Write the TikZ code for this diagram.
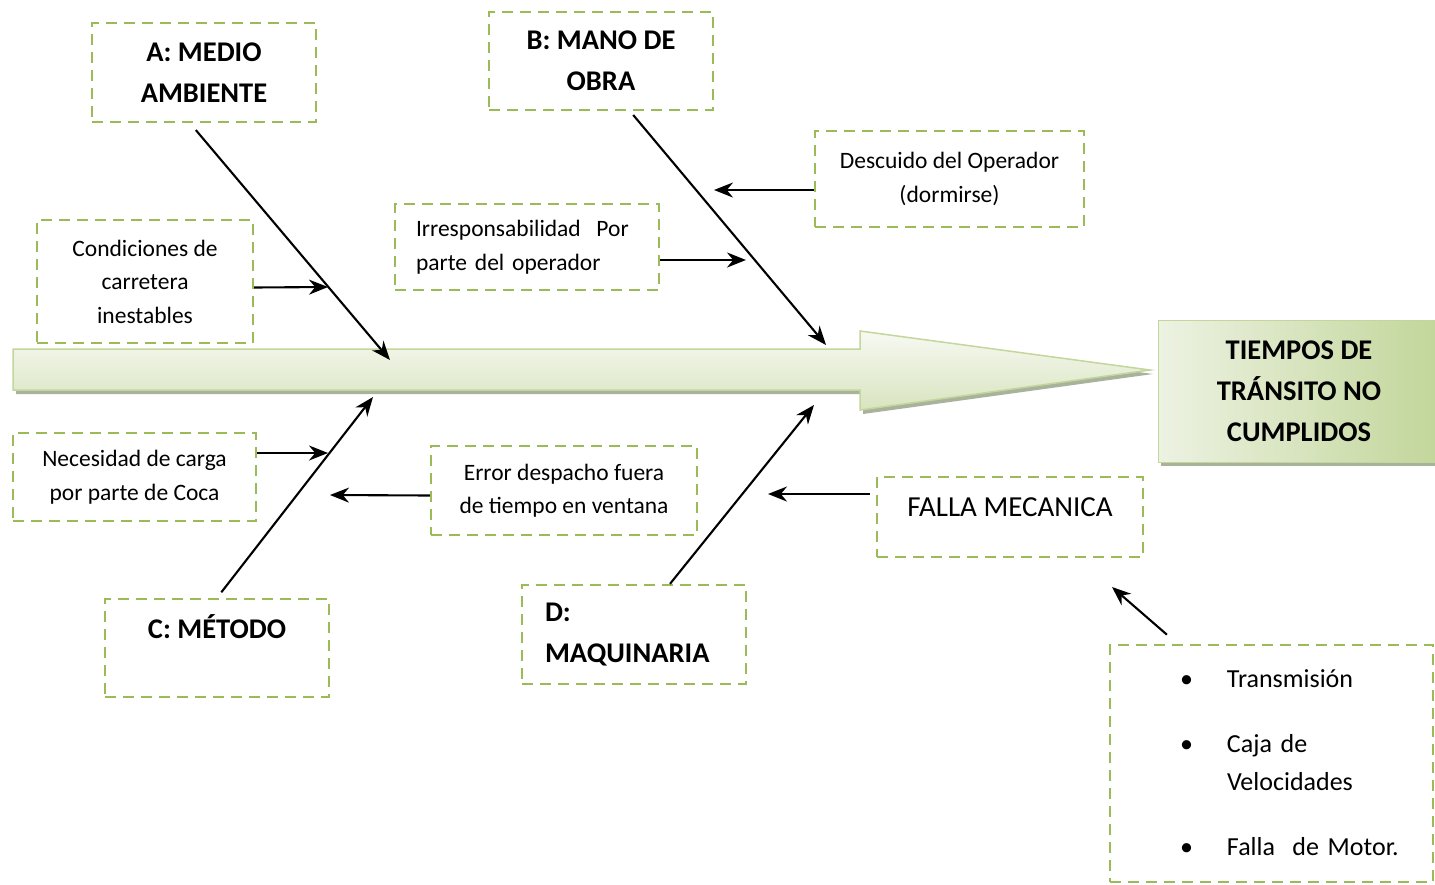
\documentclass[tikz,border=0pt]{standalone}
\usepackage{fontspec}
\setmainfont{Carlito}
\usetikzlibrary{arrows.meta,positioning}
\definecolor{olivedash}{HTML}{9BBB59}
\definecolor{spineline}{HTML}{C3D69B}
\definecolor{spinetop}{HTML}{F7F9F2}
\definecolor{spinebottom}{HTML}{D8E4BF}
\definecolor{shadowgray}{HTML}{A9B29C}
\definecolor{effpale}{HTML}{EDF2E2}
\definecolor{effgreen}{HTML}{C2D69A}

\begin{document}
\begin{tikzpicture}[x=1pt,y=-1pt,
  causebox/.style={draw=olivedash, line width=2.3pt, dash pattern=on 11pt off 7pt,
    fill=white, inner sep=0pt, align=center},
  headtext/.style={font=\fontsize{28.5}{41}\selectfont\bfseries},
  smalltext/.style={font=\fontsize{23.5}{33.5}\selectfont},
  bone/.style={draw=black, line width=2.1pt, -{Stealth[length=19pt,width=15pt]}}]
  \useasboundingbox (0,0) rectangle (1435,884);

  % spine arrow with its shadow
  \fill[shadowgray] (16,353) -- (863,353) -- (863,335) -- (1153,374) -- (863,414)
    -- (863,394) -- (16,394) -- cycle;
  \path[draw=spineline, line width=1.5pt, top color=spinetop, bottom color=spinebottom]
    (13,349) -- (860,349) -- (860,331) -- (1150,370) -- (860,410) -- (860,390)
    -- (13,390) -- cycle;

  % effect
  \fill[shadowgray] (1161,324) rectangle (1440,466);
  \node[draw=spineline, line width=1pt, left color=effpale, right color=effgreen,
    headtext, align=center, inner sep=0pt, minimum width=282pt, minimum height=142pt]
    (tiempos) at (1299,391) {TIEMPOS DE\\TRÁNSITO NO\\CUMPLIDOS};

  % main causes
  \node[causebox, headtext, minimum width=224pt, minimum height=99pt]
    (medio) at (204,72.5) {A: MEDIO\\AMBIENTE};
  \node[causebox, headtext, minimum width=224pt, minimum height=98pt]
    (mano) at (601,61) {B: MANO DE\\OBRA};
  \node[causebox, headtext, minimum width=224pt, minimum height=98pt,
    text height=24pt, text depth=44pt] (metodo) at (217,648) {C: MÉTODO};
  \node[causebox, headtext, align=left, text width=178pt, inner xsep=23pt,
    minimum height=99pt] (maquina) at (634,634.5) {D:\\MAQUINARIA};

  % sub causes
  \node[causebox, smalltext, minimum width=216pt, minimum height=123pt]
    (condic) at (145,281.5) {Condiciones de\\carretera\\inestables};
  \node[causebox, smalltext, align=left, text width=222pt, inner xsep=21pt,
    minimum height=86pt] (irresp) at (527,247) {Irresponsabilidad\ \ Por\\parte del operador};
  \node[causebox, smalltext, minimum width=269pt, minimum height=96pt]
    (descuido) at (949.5,179) {Descuido del Operador\\(dormirse)};
  \node[causebox, smalltext, minimum width=243pt, minimum height=88pt]
    (necesidad) at (134.5,477) {Necesidad de carga\\por parte de Coca};
  \node[causebox, smalltext, minimum width=266pt, minimum height=89pt]
    (despacho) at (564,490.5) {Error despacho fuera\\de tiempo en ventana};
  \node[causebox, font=\fontsize{29}{36}\selectfont, minimum width=266pt,
    minimum height=80pt, text depth=20pt] (falla) at (1010,517) {FALLA MECANICA};
  \node[causebox, align=left, text width=323pt, minimum height=237pt,
    font=\fontsize{26}{38}\selectfont] (partes) at (1271.5,763.5)
    {\begin{tabular}{@{\hspace{70pt}}p{47pt}@{}l@{}}
      \textbullet & Transmisión\\[27pt]
      \textbullet & Caja de\\
                  & Velocidades\\[27pt]
      \textbullet & Falla\ \ de Motor.
    \end{tabular}};

  % points on the spine and on the bones
  \coordinate (spineA) at (390,360);
  \coordinate (spineB) at (826,345);
  \coordinate (spineC) at (373,397);
  \coordinate (spineD) at (814,405);
  \coordinate (hitCond) at (328,287);
  \coordinate (hitIrr) at (746,260);
  \coordinate (hitDesc) at (714,190);
  \coordinate (hitNec) at (328,453);
  \coordinate (hitErr) at (330,495);
  \coordinate (hitFalla) at (768,494);
  \coordinate (hitPartes) at (1112,587);

  % bones
  \draw[bone, shorten <=9pt] ([xshift=-14pt]medio.south) -- (spineA);
  \draw[bone, shorten <=5pt] ([xshift=29pt]mano.south) -- (spineB);
  \draw[bone, shorten <=7pt] (metodo.north) -- (spineC);
  \draw[bone] ([xshift=36pt]maquina.north) -- (spineD);

  % sub cause arrows
  \draw[bone] ([yshift=-6pt]condic.east) -- (hitCond);
  \draw[bone] ([yshift=-13pt]irresp.east) -- (hitIrr);
  \draw[bone] ([yshift=-11pt]descuido.west) -- (hitDesc);
  \draw[bone] ([yshift=24pt]necesidad.east) -- (hitNec);
  \draw[bone] ([yshift=-5pt]despacho.west) -- (hitErr);
  \draw[bone] ([yshift=23pt,xshift=-6pt]falla.west) -- (hitFalla);
  \draw[bone, shorten <=14pt] ([xshift=-94pt]partes.north) -- (hitPartes);
\end{tikzpicture}
\end{document}
